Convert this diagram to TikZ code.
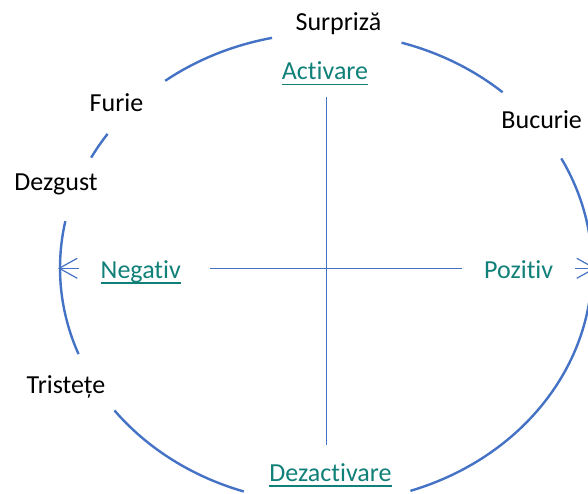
\documentclass[tikz,border=0pt]{standalone}
\usepackage{fontspec}
\setmainfont{Carlito}[Ligatures=CommonOff]
\usetikzlibrary{arrows.meta,calc}
\definecolor{ringblue}{HTML}{4472C4}
\definecolor{linkteal}{RGB}{16,128,120}
\begin{document}
\begin{tikzpicture}[x=1pt,y=1pt,
  lbl/.style={inner sep=0pt,anchor=base,font=\fontsize{26}{31}\selectfont,text=black},
  axlbl/.style={lbl,text=linkteal},
  ring/.style={draw=ringblue,line width=2.4pt},
  axis/.style={draw=ringblue,line width=1.2pt},
  tip/.style={axis,-{Straight Barb[length=18pt,width=20pt,line width=1.2pt]}},
  ul/.style={draw=linkteal,line width=1.6pt}]
\useasboundingbox (0,0) rectangle (588,494);
\coordinate (c) at (326,226);
% ring arcs
\foreach \a/\b in {48.4/73.5, 101.7/127.2, 145.2/152, 168.5/201.5, 217.3/252, 288.5/387.8}
  \draw[ring] ($(c)+(\a:266 and 235)$) arc[start angle=\a, end angle=\b, x radius=266, y radius=235];
% labels
\node[lbl] (surpriza) at (338.4,463) {Surpriză};
\node[lbl] (furie) at (116.5,382.3) {Furie};
\node[lbl] (dezgust) at (56,303) {Dezgust};
\node[lbl] (bucurie) at (541.7,365) {Bucurie};
\node[lbl] (tristete) at (66,100.7) {Tristețe};
\node[axlbl] (activare) at (325,414) {Activare};
\node[axlbl] (dezactivare) at (330.5,12.3) {Dezactivare};
\node[axlbl] (negativ) at (140.8,215.7) {Negativ};
\node[axlbl] (pozitiv) at (518.7,215) {Pozitiv};
% underlines
\foreach \n in {activare,negativ,dezactivare}
  \draw[ul] ([yshift=-4.5pt]\n.base west) -- ([yshift=-4.5pt]\n.base east);
% axes
\coordinate (vtop) at (326.7,397);
\coordinate (vbot) at (326.7,49);
\draw[axis] (vtop) -- (vbot);
\coordinate (hl) at (210,225.7);
\coordinate (hr) at (462,225.7);
\draw[axis] (hl) -- (hr);
\coordinate (la) at (79,225.7);
\coordinate (lt) at (58,225.7);
\draw[tip] (la) -- (lt);
\coordinate (ra) at (575,225.7);
\coordinate (rt) at (596,225.7);
\draw[tip] (ra) -- (rt);
\end{tikzpicture}
\end{document}
